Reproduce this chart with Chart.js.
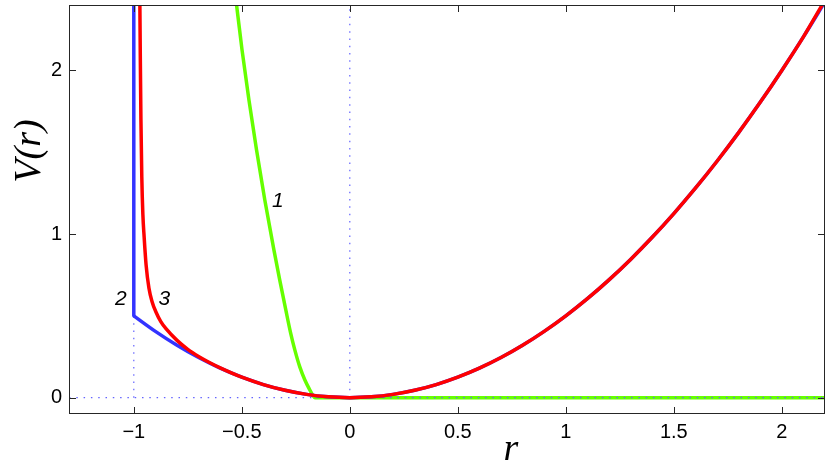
<!DOCTYPE html>
<html>
<head>
<meta charset="utf-8">
<script src="https://cdn.jsdelivr.net/npm/chart.js@4.4.1/dist/chart.umd.min.js"></script>
<style>
html,body{margin:0;padding:0;background:#fff;}
#wrap{width:830px;height:473px;position:relative;}
</style>
</head>
<body>
<div id="wrap"><canvas id="c" width="830" height="473"></canvas></div>
<script>
// ---- data ----
const xTicks = [-1, -0.5, 0, 0.5, 1, 1.5, 2];
const yTicks = [0, 1, 2];

// curve 1 (green)
const greenR = [-0.535, -0.5245, -0.4991, -0.4671, -0.4319, -0.3935, -0.3514, -0.3245, -0.2963, -0.2741, -0.2546, -0.2315, -0.208, -0.185, -0.171, -0.162, 0, 1, 2.2];
const greenV = [2.5, 2.402, 2.127, 1.821, 1.515, 1.208, 0.903, 0.72, 0.536, 0.396, 0.292, 0.188, 0.108, 0.047, 0.014, 0.0, 0, 0, 0];

// curve 2 (blue): wall at r = -1, then the well
const blueWallR = [-1, -1];
const blueWallV = [2.6, 0.5];
const blueR = [-1, -0.9, -0.8, -0.7, -0.6, -0.5, -0.4, -0.3, -0.2, -0.1, 0, 0.1, 0.2, 0.3, 0.4, 0.5, 0.6, 0.7, 0.8, 0.9, 1, 1.1, 1.2, 1.3, 1.4, 1.5, 1.6, 1.7, 1.8, 1.9, 2, 2.1, 2.2];
const blueV = [0.5, 0.405, 0.32, 0.245, 0.18, 0.125, 0.08, 0.045, 0.02, 0.005, 0, 0.005, 0.02, 0.045, 0.08, 0.125, 0.18, 0.245, 0.32, 0.405, 0.5, 0.605, 0.72, 0.845, 0.98, 1.125, 1.28, 1.445, 1.62, 1.805, 2.0, 2.205, 2.42];

// curve 3 (red)
const redR = [-0.9725, -0.97, -0.967, -0.963, -0.958, -0.952, -0.943, -0.93, -0.915, -0.898, -0.875, -0.85, -0.8, -0.75, -0.7, -0.65, -0.6, -0.5, -0.4, -0.3, -0.2, -0.1, 0, 0.1, 0.2, 0.3, 0.4, 0.5, 0.6, 0.7, 0.8, 0.9, 1, 1.1, 1.2, 1.3, 1.4, 1.5, 1.6, 1.7, 1.8, 1.9, 2, 2.1, 2.2];
const redV = [2.5, 2.1, 1.7, 1.35, 1.12, 0.98, 0.81, 0.67, 0.585, 0.525, 0.465, 0.42, 0.35, 0.295, 0.252, 0.215, 0.182, 0.125, 0.08, 0.045, 0.02, 0.005, 0, 0.005, 0.02, 0.045, 0.08, 0.125, 0.18, 0.245, 0.32, 0.405, 0.5, 0.605, 0.72, 0.845, 0.98, 1.125, 1.28, 1.445, 1.62, 1.805, 2.0, 2.205, 2.43];

// dotted guide lines
const zeroLineR = [-1.3, 2.2];
const zeroLineV = [0, 0];
const originLineR = [0, 0];
const originLineV = [0, 2.4];
const wallGuideR = [-1, -1];
const wallGuideV = [0, 0.5];

// curve labels
const curveLabels = ['1', '2', '3'];
const curveLabelR = [-0.333, -1.06, -0.859];
const curveLabelV = [1.2, 0.6, 0.6];

// ---- build ----
const pts = (xs, ys) => xs.map((x, i) => ({x: x, y: ys[i]}));
const guideColor = 'rgb(100,100,255)';

const boxPlugin = {
  id: 'box',
  afterDraw(chart) {
    const ctx = chart.ctx, a = chart.chartArea;
    const xs = chart.scales.x, ys = chart.scales.y;
    ctx.save();
    ctx.strokeStyle = '#262626';
    ctx.lineWidth = 1;
    ctx.strokeRect(Math.round(a.left) + 0.5, Math.round(a.top) + 0.5, Math.round(a.right - a.left) - 1, Math.round(a.bottom - a.top) - 1);
    const tl = 7;
    ctx.beginPath();
    xTicks.forEach(v => {
      const p = Math.round(xs.getPixelForValue(v)) + 0.5;
      ctx.moveTo(p, a.bottom); ctx.lineTo(p, a.bottom - tl);
      ctx.moveTo(p, a.top); ctx.lineTo(p, a.top + tl);
    });
    yTicks.forEach(v => {
      const p = Math.round(ys.getPixelForValue(v)) + 0.5;
      ctx.moveTo(a.left, p); ctx.lineTo(a.left + tl, p);
      ctx.moveTo(a.right, p); ctx.lineTo(a.right - tl, p);
    });
    ctx.stroke();
    // curve labels
    ctx.fillStyle = '#000';
    ctx.font = 'italic 21px "Liberation Sans", Arial, sans-serif';
    ctx.textAlign = 'center';
    ctx.textBaseline = 'middle';
    curveLabels.forEach((t, i) => {
      ctx.fillText(t, xs.getPixelForValue(curveLabelR[i]), ys.getPixelForValue(curveLabelV[i]));
    });
    // axis titles
    ctx.font = 'italic 38px "Liberation Serif", "Times New Roman", serif';
    ctx.textBaseline = 'alphabetic';
    ctx.fillText('r', 511, 460);
    ctx.save();
    ctx.translate(40, 151);
    ctx.rotate(-Math.PI / 2);
    ctx.fillText('V(r)', 0, 0);
    ctx.restore();
    ctx.restore();
  }
};

const fmt = v => String(v).replace('-', '\u2212');

new Chart(document.getElementById('c'), {
  type: 'line',
  data: {
    datasets: [
      {data: pts(redR, redV), borderColor: '#ff0000', borderWidth: 3.5, pointRadius: 0, cubicInterpolationMode: 'monotone', order: 0},
      {data: pts(blueR, blueV), borderColor: '#3333ff', borderWidth: 3.5, pointRadius: 0, cubicInterpolationMode: 'monotone', order: 1},
      {data: pts(blueWallR, blueWallV), borderColor: '#3333ff', borderWidth: 3.5, pointRadius: 0, tension: 0, order: 1},
      {data: pts(zeroLineR, zeroLineV), borderColor: guideColor, borderWidth: 1.2, borderDash: [1.5, 5.8], pointRadius: 0, order: 2},
      {data: pts(originLineR, originLineV), borderColor: guideColor, borderWidth: 1.2, borderDash: [1.5, 5.8], pointRadius: 0, order: 2},
      {data: pts(wallGuideR, wallGuideV), borderColor: guideColor, borderWidth: 1.2, borderDash: [1.5, 5.8], pointRadius: 0, order: 2},
      {data: pts(greenR, greenV), borderColor: '#66ff00', borderWidth: 3.5, pointRadius: 0, cubicInterpolationMode: 'monotone', order: 3}
    ]
  },
  options: {
    responsive: false,
    animation: false,
    layout: {padding: {top: 5, right: 5, left: 0, bottom: 0}},
    plugins: {legend: {display: false}, tooltip: {enabled: false}},
    elements: {line: {borderCapStyle: 'butt', borderJoinStyle: 'round'}},
    scales: {
      x: {
        type: 'linear', min: -1.3, max: 2.2,
        afterBuildTicks: s => { s.ticks = xTicks.map(v => ({value: v})); },
        afterFit: s => { s.height = 59; s.paddingLeft = 0; s.paddingRight = 0; },
        grid: {display: false, drawTicks: false},
        border: {display: false},
        ticks: {color: '#000', padding: 6, font: {family: '"Liberation Sans", Arial, sans-serif', size: 20}, callback: v => fmt(v), maxRotation: 0, autoSkip: false}
      },
      y: {
        type: 'linear', min: -0.1, max: 2.4,
        afterBuildTicks: s => { s.ticks = yTicks.map(v => ({value: v})); },
        afterFit: s => { s.width = 69; s.paddingTop = 0; s.paddingBottom = 0; },
        grid: {display: false, drawTicks: false},
        border: {display: false},
        ticks: {color: '#000', padding: 7, font: {family: '"Liberation Sans", Arial, sans-serif', size: 20}, callback: v => fmt(v)}
      }
    }
  },
  plugins: [boxPlugin]
});
</script>
</body>
</html>
